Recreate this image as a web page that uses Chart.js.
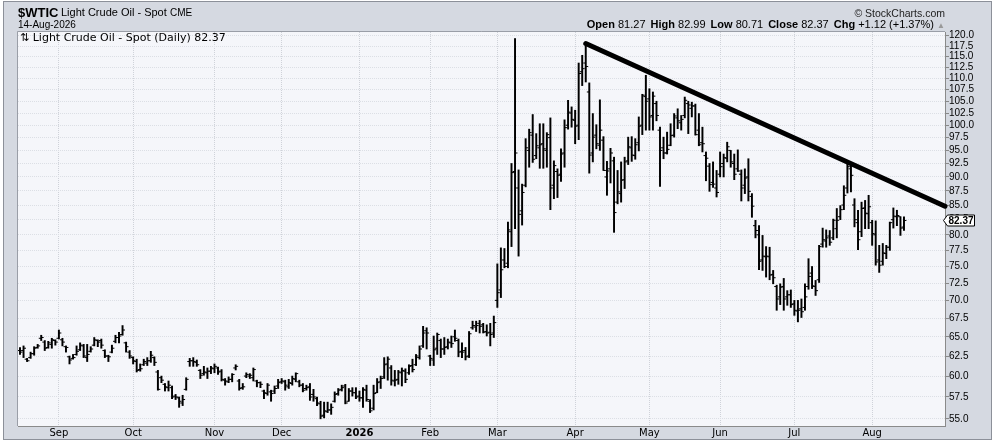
<!DOCTYPE html>
<html><head><meta charset="utf-8">
<script src="https://cdn.jsdelivr.net/npm/chart.js@4.4.1/dist/chart.umd.min.js"></script>
<style>
html,body{margin:0;padding:0;background:#fff;}
#wrap{position:relative;width:999px;height:442px;overflow:hidden;background:#fff;}
#panel{position:absolute;left:3px;top:1px;width:987px;height:437px;border:1px solid #8c9099;background:#d5d9e1;}
canvas{position:absolute;left:0;top:0;}
.t{position:absolute;white-space:nowrap;line-height:1;color:#000;font-family:'Liberation Sans',Arial,sans-serif;}
.t b{font-weight:bold;}
.g{margin-left:5px;}
</style></head><body>
<div id="wrap">
<div id="panel"></div>
<canvas id="c" width="999" height="442"></canvas>
<div class="t" style="left:18px;top:6px;font-size:13px;font-weight:bold;">$WTIC</div>
<div class="t" style="left:61px;top:7px;font-size:11px;">Light Crude Oil - Spot</div>
<div class="t" style="left:170px;top:8px;font-size:10px;">CME</div>
<div class="t" style="left:18px;top:20px;font-size:10px;">14-Aug-2026</div>
<div class="t" style="right:54px;top:8px;font-size:10.5px;color:#222;">© StockCharts.com</div>
<div class="t" style="right:54px;top:19px;font-size:11px;"><b>Open</b> 81.27<span class="g"></span><b>High</b> 82.99<span class="g"></span><b>Low</b> 80.71<span class="g"></span><b>Close</b> 82.37<span class="g"></span><b>Chg</b> +1.12 (+1.37%) <span style="font-size:8px;color:#999;">▲</span></div>
<div class="t" style="left:20px;top:32px;font-size:11px;font-family:'DejaVu Sans',Verdana,sans-serif;">⇅ Light Crude Oil - Spot (Daily) 82.37</div>
</div>
<script>
// Month tick positions (trading-day index) and labels
const monthIdx = [11, 32, 55, 74, 96, 116, 135, 157, 178, 198, 219, 241];
const monthLabels = ['Sep','Oct','Nov','Dec','2026','Feb','Mar','Apr','May','Jun','Jul','Aug'];
// Price axis ticks
const yTicks = [55,57.5,60,62.5,65,67.5,70,72.5,75,77.5,80,82.5,85,87.5,90,92.5,95,97.5,100,102.5,105,107.5,110,112.5,115,117.5,120];

// Daily OHLC, 15-Aug-2025 .. 14-Aug-2026 (one value per trading day)
const opens = [
63.2,63.2,62.1,62.3,62.8,63.6,64.8,64.3,63.6,64.0,64.5,64.8,64.6,63.7,62.4,62.2,62.7,63.3,63.8,62.3,
63.1,63.9,64.5,64.5,63.2,62.5,63.0,64.4,64.9,65.3,64.2,63.0,62.3,61.8,60.8,61.4,61.6,61.9,62.3,60.5,
59.8,59.0,58.6,58.6,57.6,57.4,56.8,58.4,61.8,61.9,61.7,60.7,60.3,60.4,60.6,60.9,61.0,60.6,59.5,59.3,
59.6,61.0,59.4,58.6,60.0,60.0,59.8,59.4,59.2,58.2,57.9,58.1,58.2,58.8,59.3,59.3,58.7,59.1,59.6,59.3,
58.9,58.5,58.7,57.8,57.3,56.7,55.4,55.8,56.0,57.0,57.9,58.4,58.8,57.0,58.2,58.0,57.6,57.4,58.3,57.0,
56.2,58.0,59.3,59.9,61.5,61.0,59.4,59.6,60.4,60.6,60.4,61.3,61.4,62.3,63.8,65.8,62.5,62.0,63.5,64.5,
63.4,63.7,64.2,65.0,64.5,63.1,63.2,62.5,66.2,66.3,66.8,66.6,65.7,65.6,65.5,70.0,71.5,76.0,75.5,80.5,
91.0,88.0,84.0,88.5,95.0,98.0,94.0,95.5,96.3,95.0,97.5,88.5,91.0,90.5,94.5,100.0,102.5,101.0,100.0,111.5,
113.5,107.0,94.5,98.0,96.0,97.0,90.0,91.5,93.0,85.5,87.0,89.5,93.0,95.5,94.0,96.5,100.0,106.0,105.5,102.0,
104.5,99.0,95.5,94.5,96.0,98.0,101.5,100.5,102.0,104.5,103.5,104.0,99.0,96.5,94.0,92.0,89.0,88.0,90.5,92.5,
93.5,95.0,92.5,91.5,90.5,88.5,90.0,86.5,81.5,80.0,76.0,76.5,76.5,73.8,72.0,70.5,72.0,70.5,70.8,69.5,
68.5,68.8,69.0,72.0,74.0,72.0,73.0,78.5,79.0,79.8,79.5,81.0,83.0,85.0,88.0,91.5,85.0,82.0,80.5,84.5,
83.5,82.0,80.0,76.0,75.8,77.0,78.0,82.5,83.0,83.0,81.27];
const highs = [
63.6,63.8,62.2,63.0,63.7,64.0,65.2,64.5,64.4,64.8,64.6,65.9,64.8,63.8,62.5,62.7,63.8,64.2,64.0,64.0,
63.7,64.9,64.6,64.7,63.3,62.6,63.9,65.2,65.6,66.5,64.3,63.2,62.4,62.1,61.5,62.1,62.3,63.1,62.4,60.7,
60.0,59.1,59.4,58.8,57.8,57.5,57.7,59.8,62.2,62.3,62.0,60.8,61.2,61.0,61.2,61.5,61.1,60.8,59.7,59.9,
60.3,61.4,59.6,59.1,60.4,60.3,61.0,59.5,59.3,58.3,59.1,58.3,58.8,59.6,59.7,59.5,59.6,60.0,60.4,59.5,
59.1,58.9,59.1,58.4,57.5,57.0,56.9,56.9,56.7,58.1,58.5,58.9,59.0,58.5,58.6,58.6,58.2,58.6,58.9,57.2,
58.9,59.7,60.0,62.3,62.4,61.3,60.7,60.7,61.0,60.9,61.4,62.1,62.7,63.8,66.4,66.2,62.6,65.1,65.5,64.7,
64.9,64.7,65.1,65.9,64.7,64.2,63.6,65.7,67.1,67.1,67.2,66.8,66.6,66.8,67.8,75.4,77.9,77.8,82.1,92.5,
119.3,91.3,88.7,97.3,99.2,102.2,98.3,100.3,100.3,98.5,101.5,93.0,91.5,95.3,101.1,105.2,103.8,103.1,113.5,115.3,
117.6,109.0,102.4,100.1,105.3,97.7,92.9,95.4,93.7,91.2,92.8,93.7,97.6,97.7,97.3,101.7,106.5,110.7,107.7,107.0,
105.0,99.6,97.6,98.6,100.3,102.4,103.4,102.0,105.9,105.0,104.8,104.4,102.4,99.6,94.7,92.5,92.8,91.2,94.7,94.3,
96.6,95.0,94.3,95.1,91.3,91.5,93.4,87.0,82.4,81.5,79.9,78.1,78.0,74.4,72.2,72.4,73.2,71.4,71.5,70.0,
70.0,70.2,72.4,76.2,75.0,72.9,78.3,81.1,80.8,80.7,82.6,84.4,84.9,88.4,92.5,92.5,86.1,84.1,85.5,85.8,
86.7,82.4,82.3,78.3,78.6,78.3,82.1,84.5,84.1,83.0,82.99];
const lows = [
62.7,62.3,61.8,62.2,62.6,63.5,64.5,63.2,63.5,63.5,63.9,64.7,63.8,63.0,61.5,62.1,62.6,63.2,62.3,61.8,
63.0,63.8,63.7,63.5,62.3,61.8,62.9,64.2,64.2,65.2,63.0,62.2,61.5,60.5,60.6,61.3,61.3,61.7,61.3,58.3,
59.2,58.2,58.2,57.3,57.2,56.3,56.5,58.3,61.2,61.2,61.2,59.7,60.1,59.7,60.3,60.4,60.2,59.4,58.9,59.2,
59.3,60.75,58.3,58.4,59.8,59.7,59.4,58.7,58.6,57.3,57.7,57.0,57.9,58.5,59.1,58.3,58.5,58.9,59.3,58.7,
58.1,58.3,57.1,57.0,56.5,55.0,55.1,55.7,55.5,56.9,57.7,58.2,56.7,57.0,57.6,57.3,57.0,56.3,57.0,55.7,
56.0,58.0,58.5,59.7,59.5,58.9,58.8,59.0,58.8,59.2,60.2,60.5,61.3,62.1,63.6,63.4,61.3,61.3,62.7,62.3,
62.7,63.4,63.6,64.4,62.4,62.3,62.0,62.3,66.0,65.7,65.5,65.5,65.1,63.8,64.9,69.0,70.4,74.8,74.8,78.1,
81.0,76.6,81.6,88.2,91.8,92.7,93.4,91.6,91.6,91.8,84.2,86.1,86.3,89.2,91.8,99.2,99.6,96.3,97.1,108.4,
109.2,90.7,92.8,95.3,95.0,91.2,86.7,88.9,80.4,85.2,85.5,87.9,92.3,92.9,93.3,94.9,98.1,99.0,99.0,99.0,
100.9,88.3,93.4,94.3,95.9,97.6,99.3,99.0,101.5,98.3,101.7,98.0,95.9,94.7,89.3,87.4,88.1,86.4,90.0,90.0,
92.8,91.8,89.5,91.0,85.7,87.0,85.7,82.9,79.5,74.5,74.4,73.4,73.0,72.4,68.6,69.4,68.6,69.3,69.0,67.9,
67.0,67.6,68.6,71.6,71.7,70.7,72.6,78.0,78.0,78.3,79.2,79.5,82.5,84.2,87.1,87.3,81.3,77.6,79.7,81.0,
81.0,78.3,75.2,74.1,75.2,76.2,77.5,81.1,81.5,79.9,80.71];
const closes = [
63.0,63.5,61.9,62.8,63.5,63.8,64.9,63.5,64.2,64.6,64.3,65.5,64.3,63.6,62.0,62.3,63.1,63.9,62.5,62.7,
63.4,64.6,64.3,63.9,62.5,62.4,63.5,64.9,65.1,65.9,63.7,62.5,61.9,60.7,60.9,61.8,61.9,62.6,61.7,58.4,
59.5,58.7,58.9,57.5,57.5,57.0,57.2,59.6,61.9,61.8,61.4,60.1,60.5,60.6,61.0,61.2,60.5,59.6,59.4,59.6,
60.2,61.2,58.5,58.7,60.2,60.1,60.8,59.2,59.0,58.0,58.9,57.9,58.5,59.2,59.4,58.9,59.2,59.7,60.3,58.9,
58.3,58.6,57.5,57.5,56.8,55.3,55.9,56.0,56.3,57.8,58.3,58.6,56.8,58.2,58.0,57.5,57.4,58.4,57.2,55.9,
57.9,59.2,59.7,61.4,62.1,59.5,59.5,60.5,60.7,59.6,61.2,60.8,62.5,63.4,65.5,65.5,62.2,63.3,65.3,63.4,
63.6,64.3,64.1,64.8,63.0,63.0,62.4,65.4,66.5,66.5,66.4,65.6,65.5,65.3,66.9,71.1,74.5,75.0,80.8,90.8,
94.5,83.4,87.2,95.5,98.5,93.3,95.9,96.1,95.3,98.1,88.0,92.1,90.3,94.3,99.5,102.7,101.2,99.8,111.1,112.2,
112.7,94.1,97.6,96.3,99.0,91.2,91.1,94.5,83.7,87.3,89.4,92.8,95.7,94.1,96.1,99.8,106.3,105.0,101.7,106.1,
102.0,95.0,94.5,95.2,97.9,101.9,100.9,101.2,105.2,104.2,104.0,98.1,96.1,96.3,93.5,88.6,88.7,87.2,91.9,93.6,
95.7,92.8,90.5,91.1,88.0,89.8,87.4,84.8,80.7,75.8,76.6,76.6,73.7,73.3,70.2,71.9,70.2,70.8,69.4,68.6,
68.6,68.4,70.5,73.5,72.1,71.4,78.1,79.2,79.5,78.8,82.4,82.4,84.2,86.7,91.9,90.3,82.5,79.2,84.4,83.6,
84.7,80.2,75.7,75.2,77.1,78.0,82.0,83.1,83.2,81.1,82.37];

// Hand-drawn trendline: start at the April high, end at the right edge
const trendX = [160, 261.6];
const trendY = [118.1, 84.8];

const xMin = -0.566, xMax = 261.6;
const yMin = 54.2, yMax = 120.9;

const bgPlugin = {
  id: 'bg',
  beforeDraw(c) {
    const {ctx, chartArea: a} = c;
    ctx.save();
    ctx.fillStyle = '#f5f6fa';
    ctx.fillRect(a.left, a.top, a.right - a.left, a.bottom - a.top);
    ctx.strokeStyle = '#9a9ea7';
    ctx.lineWidth = 1;
    ctx.beginPath();
    ctx.moveTo(a.left - 0.5, a.bottom);
    ctx.lineTo(a.left - 0.5, a.top - 0.5);
    ctx.lineTo(a.right, a.top - 0.5);
    ctx.stroke();
    ctx.restore();
  }
};

const lastPlugin = {
  id: 'lastLabel',
  afterDraw(c) {
    const {ctx, chartArea: a} = c;
    const v = closes[closes.length - 1];
    const y = Math.round(c.scales.y.getPixelForValue(v)) + 0.5;
    const x0 = a.right - 1.5, x1 = a.right + 2.5, x2 = a.right + 29.5;
    ctx.save();
    ctx.beginPath();
    ctx.moveTo(x0, y);
    ctx.lineTo(x1, y - 5.5);
    ctx.lineTo(x2, y - 5.5);
    ctx.lineTo(x2, y + 5.5);
    ctx.lineTo(x1, y + 5.5);
    ctx.closePath();
    ctx.fillStyle = '#fff';
    ctx.fill();
    ctx.strokeStyle = '#000';
    ctx.lineWidth = 1;
    ctx.stroke();
    ctx.fillStyle = '#000';
    ctx.font = 'bold 10px "Liberation Sans", Arial, sans-serif';
    ctx.textAlign = 'center';
    ctx.textBaseline = 'middle';
    ctx.fillText(v.toFixed(2), (x1 + x2) / 2, y + 0.5);
    ctx.restore();
  }
};

new Chart(document.getElementById('c'), {
  type: 'bar',
  data: {
    datasets: [
      {
        type: 'line',
        data: trendX.map((x, k) => ({x: x, y: trendY[k]})),
        borderColor: '#000', borderWidth: 5, pointRadius: 0,
        borderCapStyle: 'round', tension: 0, clip: false, order: 0
      },
      {
        type: 'scatter',
        data: opens.map((v, i) => ({x: i - 0.34, y: v})),
        pointStyle: 'line', radius: 1.25, borderColor: '#000', borderWidth: 1, order: 1
      },
      {
        type: 'scatter',
        data: closes.map((v, i) => ({x: i + 0.34, y: v})),
        pointStyle: 'line', radius: 1.25, borderColor: '#000', borderWidth: 1, order: 1
      },
      {
        type: 'bar',
        data: lows.map((l, i) => ({x: i, y: [l, highs[i]]})),
        backgroundColor: '#000', borderWidth: 0, barThickness: 1.3, grouped: false, order: 2
      }
    ]
  },
  options: {
    responsive: false, animation: false, devicePixelRatio: 1, events: [],
    layout: {padding: {left: 18, top: 32, right: 0, bottom: 0}},
    plugins: {legend: {display: false}, tooltip: {enabled: false}},
    scales: {
      x: {
        type: 'linear', min: xMin, max: xMax, offset: false,
        afterBuildTicks: s => { s.ticks = monthIdx.map(v => ({value: v})); },
        afterFit: s => { s.height = 16; },
        grid: {color: '#cfd2d9', drawTicks: false, offset: false},
        border: {display: true, color: '#8a8a8a', dash: [1, 1]},
        ticks: {
          autoSkip: false, maxRotation: 0, padding: 1, color: '#000',
          font: ctx => ({family: "'DejaVu Sans', Verdana, sans-serif", size: 10,
                         weight: monthLabels[ctx.index] === '2026' ? 'bold' : 'normal'}),
          callback: (v, i) => monthLabels[i]
        }
      },
      y: {
        type: 'logarithmic', position: 'right', min: yMin, max: yMax,
        afterBuildTicks: s => { s.ticks = yTicks.map(v => ({value: v})); },
        afterFit: s => { s.width = 54; },
        grid: {color: '#dcdfe5', tickLength: 4, tickColor: '#888'},
        border: {display: true, color: '#8a8a8a', dash: [1, 1]},
        ticks: {
          autoSkip: false, padding: 0, color: '#000',
          font: {family: "'Liberation Sans', Arial, sans-serif", size: 10},
          callback: v => Number(v).toFixed(1)
        }
      }
    }
  },
  plugins: [bgPlugin, lastPlugin]
});
</script>
</body></html>
